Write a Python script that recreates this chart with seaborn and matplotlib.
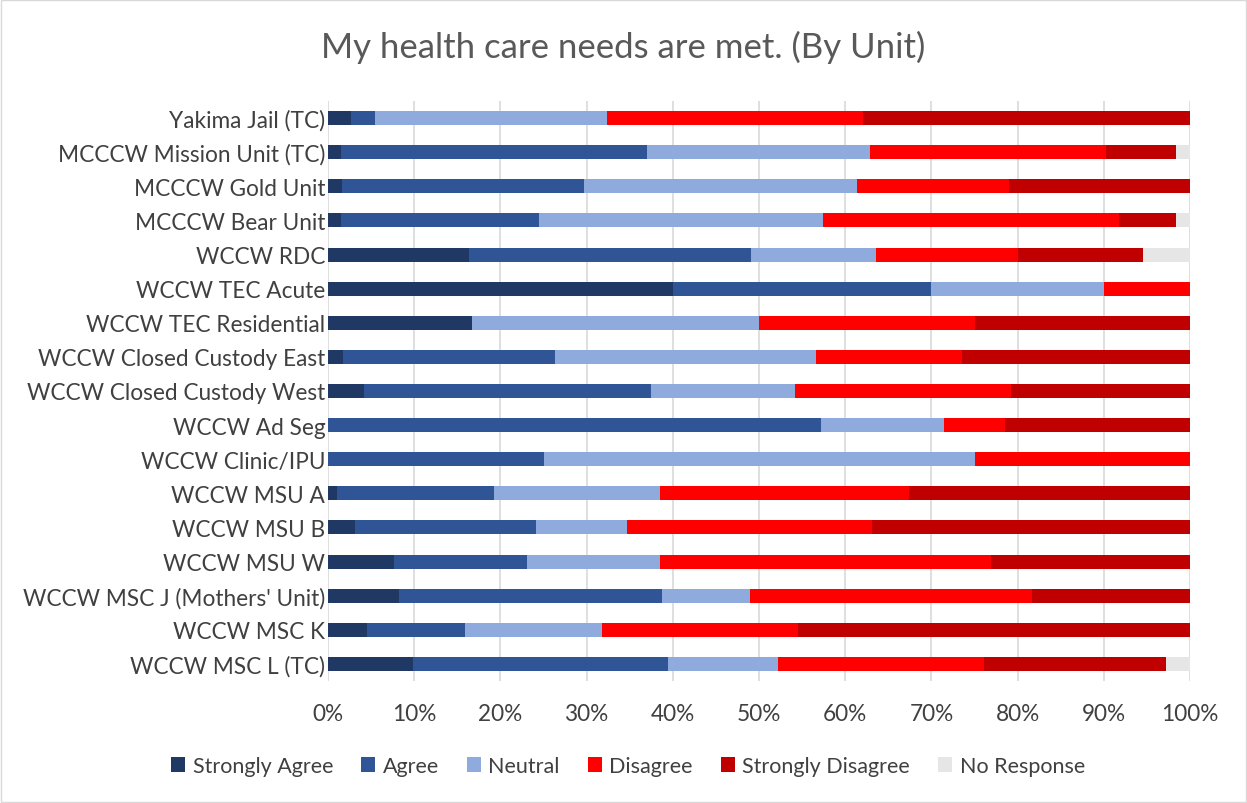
import numpy as np
import pandas as pd
import matplotlib
matplotlib.use("Agg")
import matplotlib.pyplot as plt
import seaborn as sns
from matplotlib.patches import Patch, Rectangle

# -------------------------------------------------
# Data (percent of responses per unit)
# -------------------------------------------------
units = [
    "Yakima Jail (TC)", "MCCCW Mission Unit (TC)", "MCCCW Gold Unit",
    "MCCCW Bear Unit", "WCCW RDC", "WCCW TEC Acute", "WCCW TEC Residential",
    "WCCW Closed Custody East", "WCCW Closed Custody West", "WCCW Ad Seg",
    "WCCW Clinic/IPU", "WCCW MSU A", "WCCW MSU B", "WCCW MSU W",
    "WCCW MSC J (Mothers' Unit)", "WCCW MSC K", "WCCW MSC L (TC)",
]
responses = ["Strongly Agree", "Agree", "Neutral", "Disagree",
             "Strongly Disagree", "No Response"]

strongly_agree = [2.7, 1.5, 1.6, 1.5, 16.4, 40.0, 16.7, 1.7, 4.2, 0.0,
                  0.0, 1.1, 3.1, 7.7, 8.2, 4.5, 9.9]
agree = [2.7, 35.5, 28.1, 23.0, 32.7, 30.0, 0.0, 24.6, 33.3, 57.1,
         25.0, 18.1, 21.0, 15.4, 30.6, 11.4, 29.6]
neutral = [27.0, 25.9, 31.7, 32.9, 14.5, 20.0, 33.3, 30.3, 16.7, 14.3,
           50.0, 19.3, 10.6, 15.4, 10.2, 15.9, 12.7]
disagree = [29.7, 27.4, 17.6, 34.4, 16.4, 10.0, 25.0, 17.0, 25.0, 7.1,
            25.0, 28.9, 28.4, 38.5, 32.7, 22.7, 23.9]
strongly_disagree = [37.9, 8.1, 21.0, 6.6, 14.5, 0.0, 25.0, 26.4, 20.8, 21.4,
                     0.0, 32.6, 36.9, 23.1, 18.4, 45.5, 21.1]
no_response = [0.0, 1.6, 0.0, 1.6, 5.5, 0.0, 0.0, 0.0, 0.0, 0.0,
               0.0, 0.0, 0.0, 0.0, 0.0, 0.0, 2.8]

colors = ["#203864", "#2F5597", "#8FAADC", "#FF0000", "#C00000", "#E6E6E6"]

df = pd.DataFrame({
    "Unit": units,
    "Strongly Agree": strongly_agree,
    "Agree": agree,
    "Neutral": neutral,
    "Disagree": disagree,
    "Strongly Disagree": strongly_disagree,
    "No Response": no_response,
})

# normalise each row to 100 and build cumulative totals for stacking
vals = df[responses].to_numpy()
vals = vals / vals.sum(axis=1, keepdims=True) * 100
cum = np.cumsum(vals, axis=1)

# -------------------------------------------------
# Plot
# -------------------------------------------------
sns.set_theme(style="white")
plt.rcParams["font.family"] = ["Lato", "DejaVu Sans"]

fig = plt.figure(figsize=(12.47, 8.04), dpi=100)
ax = fig.add_axes([328 / 1247, 1 - 682 / 804, (1190 - 328) / 1247, (682 - 102) / 804])

# draw from the longest cumulative bar to the shortest so each overlays the next
for i in range(len(responses) - 1, -1, -1):
    sns.barplot(x=cum[:, i], y=units, orient="h", color=colors[i],
                width=0.41, saturation=1, edgecolor="none", ax=ax, zorder=2)

ax.set_xlim(0, 100)
ax.set_ylim(len(units) - 0.5, -0.5)
ax.set_xticks(np.arange(0, 101, 10))
ax.set_xticklabels([f"{t}%" for t in range(0, 101, 10)])
ax.xaxis.grid(True, color="#D9D9D9", linewidth=1.2, zorder=0)
ax.set_axisbelow(True)
for s in ax.spines.values():
    s.set_visible(False)
ax.tick_params(axis="both", length=0, labelsize=16.3, labelcolor="#404040")
ax.tick_params(axis="x", pad=16)
ax.tick_params(axis="y", pad=2)
ax.set_xlabel("")
ax.set_ylabel("")

fig.text(0.5, 1 - 47 / 804, "My health care needs are met. (By Unit)",
         ha="center", va="center", fontsize=25, color="#595959")

handles = [Patch(facecolor=c, edgecolor="none") for c in colors]
fig.legend(handles, responses, loc="center", bbox_to_anchor=(628 / 1247, 1 - 767 / 804),
           ncol=6, frameon=False, fontsize=15.5, handlelength=0.65, handleheight=0.65,
           handletextpad=0.35, columnspacing=1.3, labelcolor="#404040")

fig.patches.append(Rectangle((0.001, 0.001), 0.998, 0.998, transform=fig.transFigure,
                             fill=False, edgecolor="#D9D9D9", linewidth=1))

fig.savefig("out.png", dpi=100)
